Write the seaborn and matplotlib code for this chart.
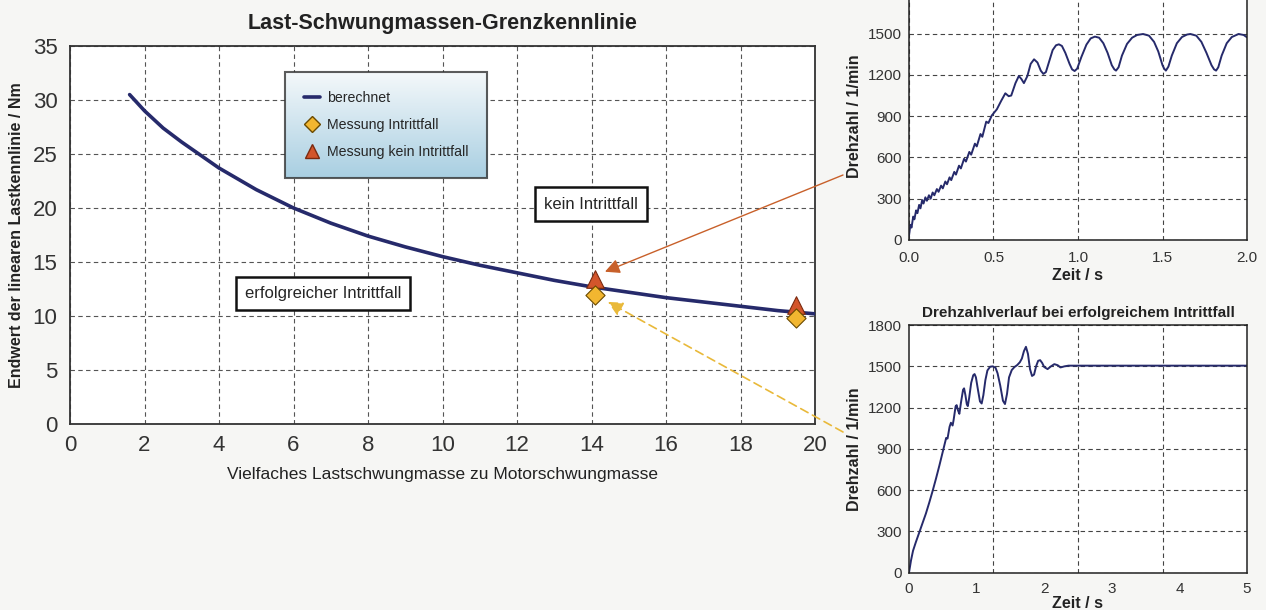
import numpy as np
import matplotlib
matplotlib.use("Agg")
import matplotlib.pyplot as plt
import seaborn as sns
from matplotlib.lines import Line2D
from matplotlib.ticker import MultipleLocator, FixedLocator

# ---- data ----
# limit curve: load multiple vs. end value of linear load curve
grenz_x = [1.6, 2, 2.5, 3, 3.5, 4, 5, 6, 7, 8, 9, 10, 11, 12, 13, 14, 15, 16, 17, 18, 19, 20]
grenz_y = [30.5, 29.0, 27.4, 26.1, 24.9, 23.7, 21.7, 20.0, 18.6, 17.4, 16.4, 15.5, 14.7, 14.0,
           13.3, 12.7, 12.2, 11.7, 11.3, 10.9, 10.5, 10.2]

mess_ok_x = [14.1, 19.5]
mess_ok_y = [11.9, 9.8]
mess_kein_x = [14.1, 19.5]
mess_kein_y = [13.4, 11.0]

# speed curve, no pull-in (0..2 s)
t_kein = [0.000, 0.008, 0.015, 0.025, 0.032, 0.042, 0.05, 0.06, 0.068, 0.078, 0.086, 0.097, 0.106,
          0.118, 0.128, 0.14, 0.15, 0.165, 0.175, 0.19, 0.2, 0.215, 0.225, 0.24, 0.25, 0.268, 0.278,
          0.296, 0.307, 0.326, 0.337, 0.357, 0.368, 0.39, 0.401, 0.423, 0.434, 0.457, 0.47, 0.49,
          0.50, 0.52, 0.545, 0.57, 0.59, 0.605, 0.63, 0.65, 0.665, 0.68, 0.70, 0.72, 0.74, 0.76,
          0.78, 0.795, 0.81, 0.83, 0.85, 0.87, 0.887, 0.905, 0.925, 0.95, 0.965, 0.98, 0.995, 1.02,
          1.05, 1.075, 1.10, 1.125, 1.15, 1.175, 1.20, 1.215, 1.225, 1.24, 1.26, 1.29, 1.32, 1.35,
          1.385, 1.42, 1.45, 1.475, 1.50, 1.51, 1.52, 1.535, 1.555, 1.585, 1.615, 1.645, 1.665,
          1.70, 1.73, 1.76, 1.79, 1.805, 1.817, 1.83, 1.85, 1.88, 1.91, 1.95, 1.98, 2.0]
n_kein = [30, 110, 90, 170, 150, 215, 195, 255, 230, 290, 265, 310, 285,
          325, 300, 345, 325, 370, 350, 395, 375, 425, 405, 455, 435, 495, 475,
          540, 520, 590, 570, 640, 620, 700, 680, 770, 750, 860, 850, 905,
          920, 950, 1010, 1066, 1045, 1050, 1140, 1192, 1170, 1140, 1190, 1280, 1313, 1290,
          1230, 1207, 1220, 1300, 1380, 1415, 1422, 1410, 1360, 1280, 1240, 1228, 1245, 1330,
          1420, 1465, 1478, 1470, 1430, 1360, 1270, 1240, 1231, 1255, 1340, 1425, 1470, 1490,
          1497, 1485, 1440, 1370, 1270, 1245, 1231, 1260, 1340, 1430, 1475, 1493, 1497,
          1485, 1440, 1360, 1270, 1240, 1231, 1255, 1340, 1430, 1475, 1497, 1490, 1473]

# speed curve, successful pull-in (0..5 s)
t_ok = [0.0, 0.03, 0.06, 0.1, 0.15, 0.2, 0.25, 0.3, 0.35, 0.4, 0.45, 0.5, 0.53, 0.55, 0.57, 0.6,
        0.62, 0.645, 0.66, 0.69, 0.705, 0.725, 0.745, 0.77, 0.80, 0.815, 0.835, 0.855, 0.87, 0.89,
        0.92, 0.95, 0.97, 0.99, 1.02, 1.05, 1.075, 1.10, 1.13, 1.16, 1.2, 1.24, 1.28, 1.31, 1.35,
        1.39, 1.42, 1.45, 1.48, 1.52, 1.56, 1.6, 1.64, 1.67, 1.70, 1.73, 1.76, 1.79, 1.82, 1.85,
        1.88, 1.91, 1.94, 1.97, 2.0, 2.05, 2.1, 2.15, 2.2, 2.24, 2.3, 2.36, 2.5, 3.0, 4.0, 5.0]
n_ok = [0, 90, 160, 220, 290, 360, 430, 510, 595, 685, 780, 880, 940, 980, 975, 1060,
        1090, 1070, 1110, 1210, 1218, 1180, 1155, 1240, 1330, 1340, 1290, 1225, 1211, 1270,
        1380, 1435, 1444, 1420, 1330, 1245, 1230, 1290, 1400, 1470, 1497, 1500, 1490, 1450, 1360,
        1250, 1226, 1300, 1420, 1473, 1495, 1509, 1530, 1557, 1610, 1642, 1590, 1480, 1430, 1440,
        1500, 1540, 1545, 1525, 1495, 1480, 1500, 1516, 1508, 1492, 1500, 1505, 1505, 1505, 1505,
        1505]

navy = "#262a6b"
diamond_c = "#f2b630"
triangle_c = "#d3552b"
sans = ["Liberation Sans", "DejaVu Sans"]

sns.set_style("white")
plt.rcParams["font.family"] = sans

fig = plt.figure(figsize=(12.66, 6.10), dpi=100, facecolor="#f6f6f4")

# ---------------- main chart ----------------
ax = fig.add_axes([0.0553, 0.3049, 0.5885, 0.6197])
ax.set_facecolor("white")
sns.lineplot(x=grenz_x, y=grenz_y, ax=ax, color=navy, lw=2.6, zorder=3)
sns.scatterplot(x=mess_kein_x, y=mess_kein_y, ax=ax, marker="^", s=160, color=triangle_c,
                edgecolor="#7a2a10", linewidth=0.8, zorder=4)
sns.scatterplot(x=mess_ok_x, y=mess_ok_y, ax=ax, marker="D", s=95, color=diamond_c,
                edgecolor="#6b4a00", linewidth=0.8, zorder=5)
ax.set_xlim(0, 20)
ax.set_ylim(0, 35)
ax.xaxis.set_major_locator(MultipleLocator(2))
ax.yaxis.set_major_locator(MultipleLocator(5))
ax.grid(True, ls=(0, (4, 3)), color="#555555", lw=0.8)
ax.tick_params(axis="both", length=0, labelsize=16, labelcolor="#333333")
ax.tick_params(axis="x", pad=8)
ax.tick_params(axis="y", pad=9)
for sp in ax.spines.values():
    sp.set_color("#333333")
    sp.set_linewidth(1.3)
ax.set_title("Last-Schwungmassen-Grenzkennlinie", fontsize=15.5, fontweight="bold",
             color="#222222", pad=12)
ax.set_xlabel("Vielfaches Lastschwungmasse zu Motorschwungmasse", fontsize=12.5,
              color="#222222", labelpad=8)
ax.set_ylabel("Endwert der linearen Lastkennlinie / Nm", fontsize=11.5, fontweight="bold",
              color="#222222", labelpad=6)

handles = [
    Line2D([], [], color=navy, lw=2.6),
    Line2D([], [], marker="D", ls="", color=diamond_c, markeredgecolor="#6b4a00", markersize=8),
    Line2D([], [], marker="^", ls="", color=triangle_c, markeredgecolor="#7a2a10", markersize=10),
]
leg = ax.legend(handles, ["berechnet", "Messung Intrittfall", "Messung kein Intrittfall"],
                loc="upper left", bbox_to_anchor=(0.2886, 0.931), fontsize=10.2,
                frameon=True, fancybox=False, handlelength=1.1, handletextpad=0.5,
                labelspacing=0.9, borderpad=1.35, borderaxespad=0)
leg.get_frame().set_facecolor("none")
leg.get_frame().set_edgecolor("#333333")
leg.get_frame().set_linewidth(1.5)
leg.set_zorder(7)

# light gradient behind the legend, fitted to its frame
fig.canvas.draw()
bb = leg.get_frame().get_window_extent().transformed(ax.transAxes.inverted())
grad = np.linspace(0, 1, 64).reshape(-1, 1)
cmap = matplotlib.colors.LinearSegmentedColormap.from_list("lg", ["#f4f8fa", "#a9cfe2"])
ax.imshow(grad, extent=(bb.x0, bb.x1, bb.y0, bb.y1), transform=ax.transAxes, cmap=cmap,
          aspect="auto", zorder=6, origin="upper")
ax.set_xlim(0, 20)
ax.set_ylim(0, 35)

box = dict(boxstyle="square,pad=0.55", fc="white", ec="#111111", lw=1.8)
ax.text(13.99, 20.37, "kein Intrittfall", fontsize=12, ha="center", va="center",
        bbox=box, zorder=6)
ax.text(6.79, 12.08, "erfolgreicher Intrittfall", fontsize=12, ha="center",
        va="center", bbox=box, zorder=6)

# arrows from the small plots to the measurement points
ax.annotate("", xy=(14.36, 14.1), xycoords="data", xytext=(843, 435), textcoords="figure pixels",
            arrowprops=dict(arrowstyle="-|>", color="#c8602a", lw=1.0, mutation_scale=22,
                            shrinkA=0, shrinkB=0), zorder=8)
ax.annotate("", xy=(14.44, 11.3), xycoords="data", xytext=(843, 178), textcoords="figure pixels",
            arrowprops=dict(arrowstyle="-|>", color="#e9b93a", lw=1.2, ls=(0, (5, 3)),
                            mutation_scale=22, shrinkA=0, shrinkB=0), zorder=8)


def style_small(a, xpad, labelpad):
    a.set_facecolor("white")
    a.tick_params(length=0, labelsize=11, labelcolor="#333333")
    a.tick_params(axis="x", pad=xpad)
    a.tick_params(axis="y", pad=5)
    for sp in a.spines.values():
        sp.set_color("#222222")
        sp.set_linewidth(1.1)
    a.set_ylim(0, 1800)
    a.yaxis.set_major_locator(MultipleLocator(300))
    a.set_ylabel("Drehzahl / 1/min", fontsize=11.5, fontweight="bold", color="#222222", labelpad=4)
    a.set_xlabel("Zeit / s", fontsize=11.5, fontweight="bold", color="#222222",
                 labelpad=labelpad)


# ---------------- top right: no pull-in ----------------
ax1 = fig.add_axes([0.718, 0.6066, 0.267, 0.406])
sns.lineplot(x=t_kein, y=n_kein, ax=ax1, color=navy, lw=1.4, sort=False)
ax1.set_xlim(0, 2)
ax1.xaxis.set_major_locator(MultipleLocator(0.5))
ax1.xaxis.set_major_formatter(matplotlib.ticker.FormatStrFormatter("%.1f"))
ax1.grid(True, ls=(0, (4, 3)), color="#444444", lw=0.8)
style_small(ax1, 8, 2)
ax1.set_yticks([0, 300, 600, 900, 1200, 1500])

# ---------------- bottom right: successful pull-in ----------------
ax2 = fig.add_axes([0.718, 0.0611, 0.267, 0.406])
sns.lineplot(x=t_ok, y=n_ok, ax=ax2, color=navy, lw=1.4, sort=False)
ax2.set_xlim(0, 5)
ax2.xaxis.set_major_locator(MultipleLocator(1))
ax2.xaxis.set_minor_locator(FixedLocator([1.25, 2.5, 3.75]))
ax2.grid(False)
ax2.xaxis.grid(True, which="minor", ls=(0, (4, 3)), color="#444444", lw=0.8)
ax2.yaxis.grid(True, which="major", ls=(0, (4, 3)), color="#444444", lw=0.8)
ax2.tick_params(which="minor", length=0)
style_small(ax2, 7, 0)
ax2.set_title("Drehzahlverlauf bei erfolgreichem Intrittfall", fontsize=11, fontweight="bold",
              color="#222222", pad=6)

fig.savefig("out.png", dpi=100, facecolor=fig.get_facecolor())
